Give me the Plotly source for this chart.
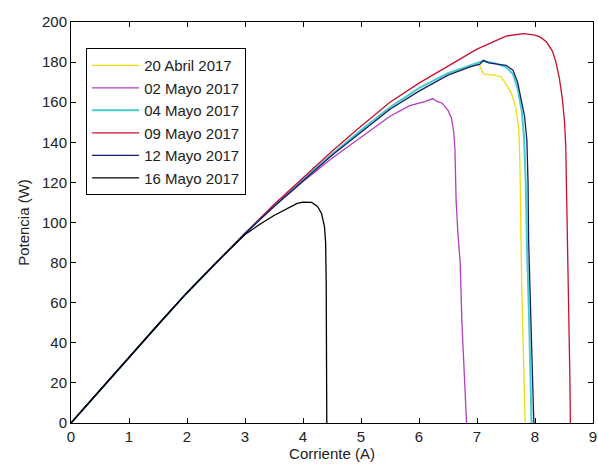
import plotly.graph_objects as go

# Data: current (A) and power (W) for each date
names = ["20 Abril 2017", "02 Mayo 2017", "04 Mayo 2017", "09 Mayo 2017", "12 Mayo 2017", "16 Mayo 2017"]
colors = ["#EEDD10", "#B43CC0", "#48CCCC", "#C8102E", "#101E70", "#000000"]
widths = [1.3, 1.3, 2.0, 1.3, 1.3, 1.3]

i_abr20 = [0, 0.5, 1.0, 1.5, 2.0, 2.5, 3.0, 3.5, 4.0, 4.5, 5.0, 5.5, 6.0, 6.5, 6.9, 7.03, 7.08, 7.12, 7.3, 7.42, 7.52, 7.6, 7.67, 7.72, 7.74, 7.75, 7.77, 7.8, 7.83]
p_abr20 = [0, 16.5, 33, 49, 65, 80, 94.5, 108.5, 121.5, 134, 146, 157.5, 167, 174.5, 178, 179, 176, 174, 173.5, 172.6, 168, 164, 157, 147, 130, 100, 70, 35, 0]

i_may02 = [0, 0.5, 1.0, 1.5, 2.0, 2.5, 3.0, 3.5, 4.0, 4.5, 5.1, 5.5, 5.84, 6.1, 6.24, 6.3, 6.4, 6.5, 6.56, 6.6, 6.62, 6.64, 6.67, 6.71, 6.74, 6.78, 6.82]
p_may02 = [0, 16.5, 33, 49, 65, 80, 94.5, 108, 120.5, 132, 144.4, 153, 158.3, 160.3, 161.8, 160.5, 159.5, 156, 152, 145, 136, 111, 95, 80, 50, 25, 0]

i_may04 = [0, 0.5, 1.0, 1.5, 2.0, 2.5, 3.0, 3.5, 4.0, 4.5, 5.0, 5.5, 6.0, 6.5, 6.9, 7.1, 7.3, 7.5, 7.62, 7.7, 7.77, 7.81, 7.84, 7.86, 7.9, 7.93, 7.94]
p_may04 = [0, 16.5, 33, 49, 65, 80, 94.5, 108.5, 121.5, 134, 146, 157.5, 167, 174.5, 178.5, 180.5, 179.5, 177.5, 174, 167, 156, 143, 120, 90, 50, 15, 0]

i_may09 = [0, 0.5, 1.0, 1.5, 2.0, 2.5, 3.0, 3.5, 4.0, 4.5, 5.0, 5.5, 6.0, 6.5, 7.0, 7.5, 7.8, 8.0, 8.1, 8.2, 8.3, 8.36, 8.42, 8.47, 8.51, 8.53, 8.55, 8.56, 8.58, 8.6, 8.61]
p_may09 = [0, 16.5, 33, 49, 65, 80, 94.5, 109, 122.5, 135.5, 148, 160, 169.5, 178, 186.5, 193, 194.2, 193.5, 192.3, 190, 185.5, 180, 172, 162, 150, 138, 110, 90, 60, 25, 0]

i_may12 = [0, 0.5, 1.0, 1.5, 2.0, 2.5, 3.0, 3.5, 4.0, 4.5, 5.0, 5.5, 6.0, 6.5, 6.88, 7.05, 7.11, 7.2, 7.5, 7.62, 7.7, 7.76, 7.82, 7.86, 7.88, 7.89, 7.93, 7.96, 7.98]
p_may12 = [0, 16.5, 33, 49, 65, 80, 94.5, 108, 121, 133.5, 145, 156.5, 165.5, 173.5, 177.6, 179, 180.9, 179.6, 178.4, 176, 170, 162, 153, 141, 120, 91, 55, 20, 0]

i_may16 = [0, 0.5, 1.0, 1.5, 2.0, 2.5, 3.0, 3.25, 3.5, 3.75, 3.9, 4.0, 4.15, 4.25, 4.32, 4.37, 4.39, 4.40, 4.40, 4.41, 4.41]
p_may16 = [0, 16.5, 33, 49, 65, 80, 94, 99, 103.5, 107.5, 109.5, 110.2, 110, 108, 104.5, 98, 90, 70, 45, 20, 0]

xs = [i_abr20, i_may02, i_may04, i_may09, i_may12, i_may16]
ys = [p_abr20, p_may02, p_may04, p_may09, p_may12, p_may16]

x_ticks = list(range(0, 10))
y_ticks = list(range(0, 201, 20))

FONT = "Liberation Sans, Arial, sans-serif"

fig = go.Figure()
for n, c, w, x, y in zip(names, colors, widths, xs, ys):
    fig.add_trace(go.Scatter(x=x, y=y, mode="lines", name=n,
                             line=dict(color=c, width=w)))

axis_common = dict(showline=True, linecolor="black", linewidth=1, mirror="ticks",
                   ticks="inside", ticklen=5, tickcolor="black", showgrid=False,
                   zeroline=False, automargin=False, ticklabeloverflow="allow",
                   tickfont=dict(family=FONT, size=15, color="#222"))

fig.update_layout(
    width=598, height=465,
    margin=dict(l=71, r=5, t=22, b=42),
    paper_bgcolor="white", plot_bgcolor="white",
    font=dict(family=FONT, size=15, color="#222"),
    xaxis=dict(range=[0, 9], tickvals=x_ticks,
               title=dict(text="Corriente (A)", font=dict(family=FONT, size=15), standoff=2),
               **axis_common),
    yaxis=dict(range=[0, 200], tickvals=y_ticks,
               title=dict(text="Potencia (W)", font=dict(family=FONT, size=15), standoff=8),
               **axis_common),
    legend=dict(x=0.029, y=0.935, xanchor="left", yanchor="top",
                bgcolor="white", bordercolor="black", borderwidth=1,
                font=dict(family=FONT, size=15, color="#222"),
                itemwidth=47, tracegroupgap=0),
    showlegend=True,
)

fig.write_html("out.html", config={"displayModeBar": False},
               post_script="document.body.style.margin='0';document.body.style.overflow='hidden';")
